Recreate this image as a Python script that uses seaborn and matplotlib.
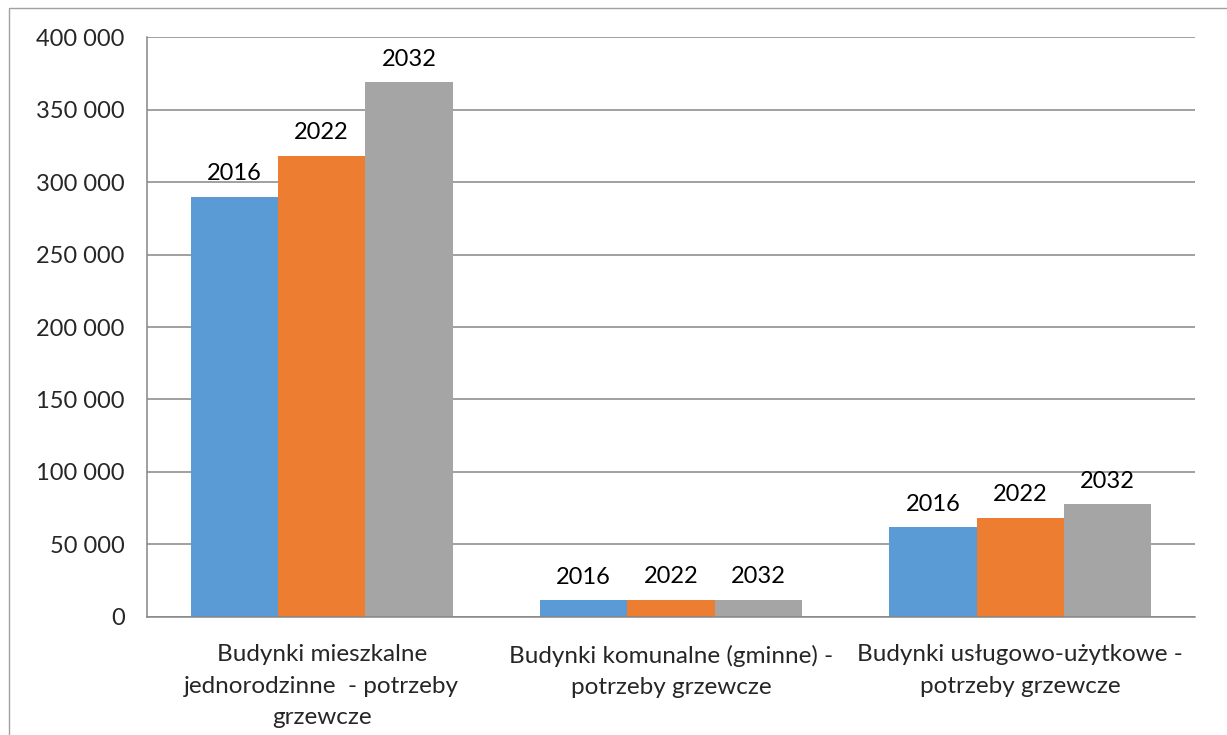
import pandas as pd
import matplotlib
matplotlib.use("Agg")
import matplotlib.pyplot as plt
import matplotlib.ticker as mticker
from matplotlib.patches import Rectangle
import seaborn as sns

# dane
kategorie = [
    "Budynki mieszkalne\njednorodzinne  - potrzeby\ngrzewcze",
    "Budynki komunalne (gminne) -\npotrzeby grzewcze",
    "Budynki usługowo-użytkowe -\npotrzeby grzewcze",
]
lata = ["2016", "2022", "2032"]
wartosci_2016 = [290000, 11300, 61700]
wartosci_2022 = [318200, 11700, 68400]
wartosci_2032 = [369100, 11700, 77800]
kolory = ["#5B9BD5", "#ED7D31", "#A5A5A5"]

df = pd.DataFrame({
    "kategoria": kategorie * 3,
    "rok": [lata[0]] * 3 + [lata[1]] * 3 + [lata[2]] * 3,
    "wartosc": wartosci_2016 + wartosci_2022 + wartosci_2032,
})

sns.set_style("white")
plt.rcParams["font.family"] = ["Lato", "DejaVu Sans"]

fig = plt.figure(figsize=(12.27, 7.35), dpi=100)
ax = fig.add_axes([0.1198, 0.161, 0.854, 0.788])

sns.barplot(data=df, x="kategoria", y="wartosc", hue="rok", hue_order=lata,
            palette=kolory, width=0.75, gap=0, saturation=1, legend=False,
            linewidth=0, ax=ax)

# etykiety danych = rok
for cont, rok in zip(ax.containers, lata):
    ax.bar_label(cont, labels=[rok] * len(cont), padding=9, fontsize=17, color="black")

szary = "#868686"
ax.set_ylim(0, 400000)
ax.set_xlim(-0.5, 2.5)
ax.yaxis.set_major_locator(mticker.MultipleLocator(50000))
ax.yaxis.set_major_formatter(mticker.FuncFormatter(lambda v, p: f"{int(v):,}".replace(",", " ")))
ax.grid(axis="y", color=szary, lw=1.1)
ax.set_axisbelow(True)

ax.set_xticks(range(3))
ax.set_xticklabels(kategorie, fontsize=17.5, linespacing=1.6, va="top")
ax.set_xticks([-0.5, 0.5, 1.5, 2.5], minor=True)
ax.tick_params(axis="x", which="major", length=0, pad=20)
ax.tick_params(axis="x", which="minor", length=6, color=szary, width=1.1, direction="out")
ax.tick_params(axis="y", length=6, color=szary, width=1.1, direction="out", labelsize=17, pad=10)
ax.set_xlabel("")
ax.set_ylabel("")

for s in ["top", "right"]:
    ax.spines[s].set_visible(False)
for s in ["left", "bottom"]:
    ax.spines[s].set_color(szary)
    ax.spines[s].set_linewidth(1.1)

# ramka wykresu
fig.add_artist(Rectangle((9 / 1227, -0.5), 2, 0.5 + (1 - 8 / 735), transform=fig.transFigure,
                         fill=False, edgecolor="#A0A0A0", lw=1, clip_on=False))

fig.savefig("out.png", dpi=100)
